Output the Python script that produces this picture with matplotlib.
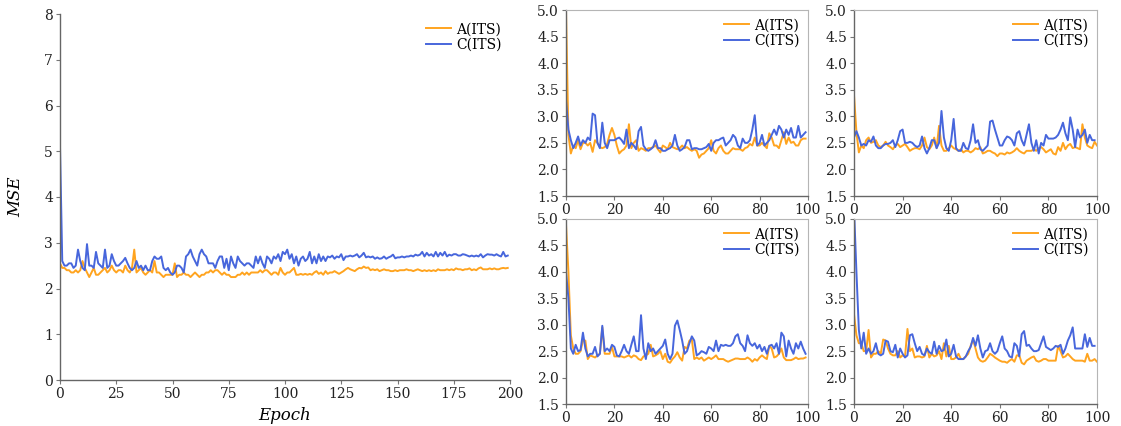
import matplotlib
matplotlib.use("Agg")
import matplotlib.pyplot as plt
import numpy as np

plt.rcParams['font.family'] = ['DejaVu Serif']

ORANGE = '#FFA41F'
BLUE = '#4766DC'

big_A = [2.55, 2.45, 2.45, 2.4, 2.4, 2.35, 2.35, 2.4, 2.35, 2.4,
         2.6, 2.45, 2.35, 2.25, 2.35, 2.45, 2.3, 2.3, 2.35, 2.4,
         2.45, 2.35, 2.4, 2.5, 2.4, 2.35, 2.4, 2.4, 2.35, 2.5,
         2.4, 2.35, 2.45, 2.85, 2.35, 2.4, 2.45, 2.35, 2.3, 2.35,
         2.4, 2.35, 2.6, 2.35, 2.35, 2.3, 2.25, 2.3, 2.3, 2.3,
         2.3, 2.55, 2.25, 2.3, 2.3, 2.35, 2.3, 2.3, 2.25, 2.3,
         2.35, 2.3, 2.25, 2.3, 2.3, 2.35, 2.35, 2.4, 2.35, 2.4,
         2.4, 2.35, 2.3, 2.35, 2.3, 2.3, 2.25, 2.25, 2.25, 2.3,
         2.3, 2.35, 2.3, 2.35, 2.3, 2.35, 2.35, 2.35, 2.35, 2.4,
         2.35, 2.4, 2.4, 2.35, 2.3, 2.35, 2.35, 2.3, 2.45, 2.35,
         2.3, 2.35, 2.35, 2.4, 2.45, 2.3, 2.3, 2.32, 2.3, 2.32,
         2.3, 2.32, 2.3, 2.35, 2.38, 2.32, 2.35, 2.3, 2.38, 2.32,
         2.35, 2.35, 2.38, 2.35, 2.32, 2.35, 2.38, 2.42, 2.45, 2.42,
         2.4, 2.38, 2.42, 2.45, 2.44, 2.48, 2.45, 2.46, 2.4, 2.42,
         2.4, 2.42, 2.38, 2.4, 2.42, 2.4, 2.4, 2.38, 2.38, 2.4,
         2.38, 2.4, 2.4, 2.4, 2.42, 2.4, 2.4, 2.38, 2.4, 2.42,
         2.4, 2.38, 2.4, 2.38, 2.4, 2.38, 2.4, 2.38, 2.42, 2.4,
         2.4, 2.4, 2.42, 2.4, 2.42, 2.4, 2.44, 2.42, 2.42, 2.4,
         2.42, 2.42, 2.44, 2.4, 2.42, 2.4, 2.44, 2.46, 2.42, 2.42,
         2.42, 2.44, 2.42, 2.44, 2.42, 2.42, 2.44, 2.45, 2.44, 2.45]

big_C = [5.1, 2.6, 2.5, 2.5, 2.55, 2.55, 2.45, 2.5, 2.85, 2.6,
         2.45, 2.4, 2.97, 2.5, 2.5, 2.45, 2.8, 2.55, 2.5, 2.45,
         2.85, 2.45, 2.5, 2.75, 2.6, 2.5, 2.5, 2.55, 2.6, 2.67,
         2.55, 2.45, 2.4, 2.45, 2.6, 2.45, 2.5, 2.4, 2.5, 2.4,
         2.4, 2.6, 2.7, 2.65, 2.65, 2.7, 2.45, 2.4, 2.45, 2.35,
         2.3, 2.35, 2.5, 2.5, 2.45, 2.35, 2.7, 2.75, 2.85, 2.7,
         2.6, 2.5, 2.75, 2.85, 2.75, 2.7, 2.55, 2.55, 2.55, 2.45,
         2.6, 2.7, 2.7, 2.45, 2.65, 2.4, 2.7, 2.55, 2.45, 2.7,
         2.6, 2.55, 2.5, 2.55, 2.55, 2.5, 2.45, 2.7, 2.55, 2.7,
         2.55, 2.45, 2.7, 2.65, 2.55, 2.7, 2.65, 2.75, 2.6, 2.8,
         2.75, 2.85, 2.65, 2.75, 2.55, 2.7, 2.5, 2.65, 2.7, 2.6,
         2.65, 2.8, 2.55, 2.7, 2.55, 2.75, 2.6, 2.7, 2.6, 2.7,
         2.68, 2.72, 2.65, 2.7, 2.68, 2.75, 2.62, 2.7, 2.7, 2.72,
         2.7, 2.72, 2.75, 2.68, 2.72, 2.78, 2.68, 2.7, 2.68, 2.7,
         2.65, 2.68, 2.65, 2.66, 2.7, 2.65, 2.68, 2.7, 2.74, 2.66,
         2.68, 2.68, 2.7, 2.68, 2.7, 2.7, 2.72, 2.7, 2.74, 2.72,
         2.74, 2.8, 2.7, 2.78, 2.72, 2.75, 2.7, 2.8, 2.7, 2.78,
         2.72, 2.8, 2.7, 2.74, 2.72, 2.75, 2.75, 2.72, 2.72, 2.75,
         2.74, 2.72, 2.7, 2.72, 2.7, 2.72, 2.7, 2.75, 2.68, 2.72,
         2.75, 2.74, 2.74, 2.72, 2.75, 2.72, 2.7, 2.8, 2.7, 2.72]

tl_A = [5.0, 2.65, 2.3, 2.45, 2.4, 2.55, 2.38, 2.5, 2.5, 2.45,
        2.5, 2.33, 2.55, 2.5, 2.42, 2.4, 2.42, 2.48, 2.65, 2.78,
        2.65, 2.45, 2.3, 2.35, 2.38, 2.45, 2.85, 2.4, 2.5, 2.55,
        2.35, 2.4, 2.38, 2.35, 2.4, 2.4, 2.42, 2.45, 2.38, 2.32,
        2.45, 2.42, 2.38, 2.5, 2.42, 2.4, 2.38, 2.4, 2.45, 2.4,
        2.42, 2.38, 2.35, 2.38, 2.35, 2.22, 2.28, 2.3, 2.35, 2.4,
        2.55, 2.35, 2.3, 2.4, 2.45, 2.35, 2.3, 2.3, 2.35, 2.4,
        2.38, 2.38, 2.38, 2.35, 2.4, 2.42, 2.48, 2.45, 2.6, 2.45,
        2.45, 2.5, 2.45, 2.4, 2.68, 2.6, 2.45, 2.45, 2.4, 2.55,
        2.7, 2.48, 2.6, 2.5, 2.52, 2.45, 2.45, 2.55, 2.58, 2.58]

tl_C = [3.3, 2.75, 2.55, 2.4, 2.5, 2.62, 2.45, 2.55, 2.5, 2.6,
        2.55, 3.05, 3.02, 2.5, 2.4, 2.88, 2.5, 2.4, 2.55, 2.55,
        2.55, 2.58, 2.6, 2.55, 2.48, 2.75, 2.4, 2.5, 2.45, 2.38,
        2.72, 2.8, 2.45, 2.38, 2.35, 2.38, 2.42, 2.55, 2.4, 2.4,
        2.35, 2.35, 2.38, 2.4, 2.45, 2.65, 2.45, 2.35, 2.38, 2.42,
        2.55, 2.55, 2.38, 2.4, 2.4, 2.38, 2.38, 2.4, 2.42, 2.48,
        2.35, 2.5, 2.55, 2.55, 2.58, 2.6, 2.45, 2.5, 2.55, 2.65,
        2.6, 2.45, 2.4, 2.58, 2.5, 2.5, 2.55, 2.75, 3.02, 2.45,
        2.5, 2.65, 2.45, 2.5, 2.55, 2.65, 2.75, 2.65, 2.82, 2.75,
        2.6, 2.75, 2.65, 2.78, 2.6, 2.6, 2.82, 2.6, 2.65, 2.7]

tr_A = [3.4, 2.7, 2.32, 2.45, 2.4, 2.55, 2.6, 2.5, 2.52, 2.55,
        2.45, 2.42, 2.45, 2.52, 2.45, 2.42, 2.38, 2.45, 2.48, 2.42,
        2.45, 2.48, 2.42, 2.35, 2.38, 2.4, 2.4, 2.38, 2.45, 2.6,
        2.42, 2.38, 2.45, 2.6, 2.4, 2.82, 2.45, 2.35, 2.35, 2.4,
        2.45, 2.4, 2.38, 2.35, 2.38, 2.32, 2.35, 2.35, 2.32, 2.35,
        2.4, 2.38, 2.42, 2.3, 2.32, 2.35, 2.35, 2.32, 2.3, 2.25,
        2.3, 2.3, 2.28, 2.32, 2.3, 2.32, 2.35, 2.4, 2.35, 2.32,
        2.3, 2.35, 2.35, 2.35, 2.38, 2.35, 2.4, 2.42, 2.38, 2.32,
        2.35, 2.38, 2.3, 2.28, 2.42, 2.35, 2.5, 2.38, 2.45, 2.48,
        2.4, 2.42, 2.4, 2.38, 2.85, 2.6, 2.45, 2.42, 2.4, 2.52, 2.45]

tr_C = [2.6, 2.72, 2.6, 2.45, 2.48, 2.45, 2.55, 2.52, 2.62, 2.45,
        2.4, 2.4, 2.45, 2.48, 2.48, 2.5, 2.55, 2.42, 2.55, 2.72,
        2.75, 2.5, 2.5, 2.52, 2.5, 2.45, 2.42, 2.45, 2.62, 2.4,
        2.3, 2.4, 2.55, 2.55, 2.4, 2.5, 3.1, 2.6, 2.4, 2.35,
        2.55, 2.95, 2.4, 2.35, 2.35, 2.5, 2.4, 2.38, 2.55, 2.85,
        2.5, 2.55, 2.38, 2.35, 2.4, 2.45, 2.9, 2.92, 2.75, 2.6,
        2.45, 2.45, 2.55, 2.62, 2.6, 2.55, 2.45, 2.68, 2.72, 2.55,
        2.45, 2.65, 2.85, 2.5, 2.35, 2.55, 2.3, 2.5, 2.45, 2.65,
        2.58, 2.58, 2.58, 2.6, 2.65, 2.75, 2.88, 2.68, 2.55, 2.98,
        2.75, 2.42, 2.75, 2.6, 2.65, 2.75, 2.5, 2.65, 2.55, 2.55]

bl_A = [4.9, 4.0, 2.8, 2.55, 2.45, 2.45, 2.5, 2.7, 2.7, 2.35,
        2.42, 2.4, 2.38, 2.42, 2.45, 2.95, 2.45, 2.45, 2.45, 2.58,
        2.4, 2.4, 2.4, 2.4, 2.38, 2.4, 2.42, 2.38, 2.42, 2.4,
        2.35, 2.33, 2.4, 2.42, 2.45, 2.62, 2.4, 2.42, 2.45, 2.5,
        2.35, 2.45, 2.3, 2.28, 2.35, 2.4, 2.48, 2.38, 2.32, 2.58,
        2.55, 2.7, 2.72, 2.35, 2.38, 2.35, 2.38, 2.32, 2.35, 2.38,
        2.35, 2.38, 2.42, 2.35, 2.35, 2.35, 2.32, 2.3, 2.32, 2.34,
        2.36, 2.36, 2.35, 2.35, 2.35, 2.38, 2.35, 2.3, 2.35, 2.32,
        2.38, 2.42, 2.38, 2.35, 2.6, 2.55, 2.38, 2.4, 2.45, 2.55,
        2.38, 2.33, 2.33, 2.33, 2.35, 2.38, 2.35, 2.36, 2.36, 2.38]

bl_C = [4.0, 3.5, 2.55, 2.45, 2.62, 2.5, 2.52, 2.85, 2.55, 2.4,
        2.45, 2.45, 2.58, 2.4, 2.45, 2.98, 2.5, 2.55, 2.5, 2.62,
        2.58, 2.42, 2.4, 2.5, 2.62, 2.5, 2.45, 2.62, 2.78, 2.5,
        2.5, 3.18, 2.55, 2.35, 2.65, 2.5, 2.55, 2.45, 2.5, 2.55,
        2.6, 2.72, 2.45, 2.35, 2.45, 2.98, 3.08, 2.9, 2.7, 2.45,
        2.5, 2.65, 2.78, 2.7, 2.42, 2.45, 2.5, 2.48, 2.45, 2.58,
        2.55, 2.5, 2.7, 2.5, 2.62, 2.6, 2.62, 2.6, 2.6, 2.65,
        2.78, 2.82, 2.65, 2.6, 2.5, 2.8, 2.65, 2.6, 2.65, 2.55,
        2.62, 2.5, 2.58, 2.45, 2.6, 2.62, 2.55, 2.65, 2.45, 2.85,
        2.78, 2.4, 2.7, 2.55, 2.45, 2.65, 2.55, 2.68, 2.55, 2.45]

br_A = [3.2, 2.8, 2.65, 2.65, 2.5, 2.5, 2.9, 2.38, 2.45, 2.45,
        2.5, 2.45, 2.72, 2.7, 2.55, 2.45, 2.42, 2.42, 2.5, 2.38,
        2.42, 2.4, 2.92, 2.5, 2.55, 2.38, 2.4, 2.4, 2.38, 2.4,
        2.6, 2.38, 2.45, 2.4, 2.42, 2.5, 2.35, 2.65, 2.4, 2.6,
        2.35, 2.35, 2.38, 2.45, 2.35, 2.35, 2.4, 2.45, 2.6, 2.72,
        2.55, 2.38, 2.32, 2.3, 2.32, 2.38, 2.45, 2.42, 2.38, 2.35,
        2.32, 2.3, 2.3, 2.28, 2.32, 2.35, 2.3, 2.42, 2.42, 2.28,
        2.25, 2.32, 2.35, 2.38, 2.4, 2.32, 2.3, 2.32, 2.35, 2.35,
        2.32, 2.32, 2.32, 2.32, 2.6, 2.5, 2.38, 2.4, 2.45, 2.4,
        2.35, 2.32, 2.32, 2.32, 2.32, 2.3, 2.45, 2.32, 2.32, 2.35, 2.3]

br_C = [5.2, 4.0, 2.9, 2.55, 2.85, 2.45, 2.55, 2.45, 2.5, 2.65,
        2.45, 2.42, 2.45, 2.7, 2.68, 2.5, 2.48, 2.62, 2.38, 2.55,
        2.45, 2.38, 2.42, 2.8, 2.82, 2.65, 2.5, 2.58, 2.45, 2.42,
        2.55, 2.48, 2.45, 2.68, 2.45, 2.6, 2.5, 2.52, 2.72, 2.4,
        2.45, 2.62, 2.4, 2.35, 2.35, 2.35, 2.4, 2.5, 2.58, 2.75,
        2.6, 2.8, 2.55, 2.38, 2.5, 2.52, 2.65, 2.5, 2.45, 2.5,
        2.65, 2.78, 2.55, 2.5, 2.4, 2.38, 2.65, 2.6, 2.4, 2.82,
        2.88, 2.6, 2.62, 2.55, 2.5, 2.5, 2.52, 2.65, 2.78, 2.58,
        2.55, 2.52, 2.55, 2.6, 2.58, 2.62, 2.45, 2.55, 2.7, 2.8,
        2.95, 2.55, 2.55, 2.55, 2.55, 2.82, 2.58, 2.75, 2.6, 2.6]

big_xticks = [0, 25, 50, 75, 100, 125, 150, 175, 200]
big_yticks = [0, 1, 2, 3, 4, 5, 6, 7, 8]
small_xticks = [0, 20, 40, 60, 80, 100]
small_yticks = [1.5, 2.0, 2.5, 3.0, 3.5, 4.0, 4.5, 5.0]
labels = ['A(ITS)', 'C(ITS)']

W, H = 1121, 426
fig = plt.figure(figsize=(W / 100, H / 100), dpi=100)


def rect(x0, x1, ytop, ybot):
    return [x0 / W, 1 - ybot / H, (x1 - x0) / W, (ybot - ytop) / H]


def style(ax, full_box):
    for s in ['left', 'bottom']:
        ax.spines[s].set_color('#666666')
        ax.spines[s].set_linewidth(1.0)
    for s in ['top', 'right']:
        if full_box:
            ax.spines[s].set_color('#b5b5b5')
            ax.spines[s].set_linewidth(0.8)
        else:
            ax.spines[s].set_visible(False)
    ax.tick_params(axis='both', labelsize=10, colors='#222222', length=3,
                   width=0.8, pad=2)
    ax.tick_params(axis='both', color='#777777')


ax = fig.add_axes(rect(60, 510, 14, 380))
ax.plot(np.arange(len(big_A)), big_A, color=ORANGE, lw=1.4, label=labels[0])
ax.plot(np.arange(len(big_C)), big_C, color=BLUE, lw=1.4, label=labels[1])
ax.set_xlim(0, 200)
ax.set_ylim(0, 8)
ax.set_xticks(big_xticks)
ax.set_yticks(big_yticks)
style(ax, False)
ax.set_xlabel('Epoch', fontstyle='italic', fontsize=12, labelpad=4)
ax.set_ylabel('MSE', fontstyle='italic', fontsize=12, labelpad=14)
ax.legend(loc='upper right', frameon=False, fontsize=10, handlelength=1.8,
          handletextpad=0.4, labelspacing=0.1, borderaxespad=0.2,
          bbox_to_anchor=(1.0, 1.0))

panels = [
    (rect(566, 808, 10, 196), tl_A, tl_C),
    (rect(854, 1097, 10, 196), tr_A, tr_C),
    (rect(566, 808, 219, 404), bl_A, bl_C),
    (rect(854, 1097, 219, 404), br_A, br_C),
]
for r, a, c in panels:
    sx = fig.add_axes(r)
    sx.plot(np.arange(len(a)), a, color=ORANGE, lw=1.4, label=labels[0])
    sx.plot(np.arange(len(c)), c, color=BLUE, lw=1.4, label=labels[1])
    sx.set_xlim(0, 100)
    sx.set_ylim(1.5, 5.0)
    sx.set_xticks(small_xticks)
    sx.set_yticks(small_yticks)
    sx.set_yticklabels([f'{v:.1f}' for v in small_yticks])
    style(sx, True)
    sx.legend(loc='upper right', frameon=False, fontsize=10, handlelength=1.8,
              handletextpad=0.4, labelspacing=0.1, borderaxespad=0.2)

fig.savefig('out.png', dpi=100)
